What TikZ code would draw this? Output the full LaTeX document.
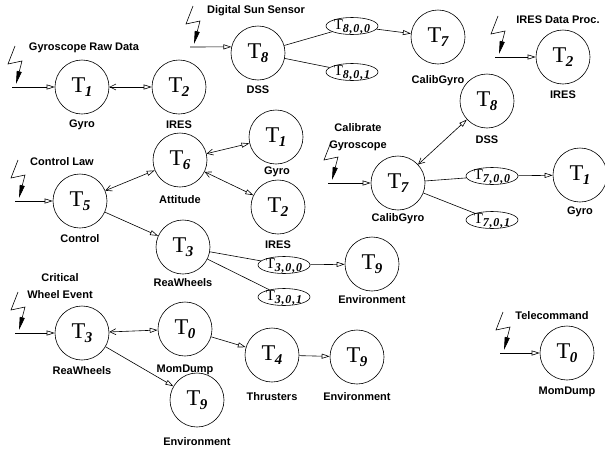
\documentclass[tikz,border=0pt]{standalone}
\usepackage{fontspec}
\setmainfont{Liberation Serif}
\setsansfont{Liberation Sans}
\usetikzlibrary{arrows.meta,shapes.geometric}
\newcommand\tk[1]{{\fontsize{22.5}{22}\selectfont T}\kern-0.3pt\raisebox{-4.5pt}{\fontsize{15}{15}\selectfont\bfseries\itshape #1}}
\newcommand\tke[1]{{\fontsize{15}{15}\selectfont T}\kern-0.2pt\raisebox{-3pt}{\fontsize{12}{12}\selectfont\bfseries\itshape\addfontfeature{LetterSpace=7}#1}}
\tikzset{
  task/.style={circle,draw,line width=0.6pt,minimum size=54pt,inner sep=0pt},
  sub/.style={ellipse,draw,line width=0.6pt,minimum width=52pt,minimum height=17pt,inner xsep=-3pt,inner ysep=0pt,text height=8pt,text depth=2pt},
  lab/.style={font=\sffamily\bfseries\fontsize{11}{16.5}\selectfont,inner sep=0pt,align=center},
  tri/.style={-{Triangle[open,length=8pt,width=5pt]}},
  dbl/.style={{Straight Barb[length=6pt,width=6pt]}-{Triangle[open,length=8pt,width=5pt]}},
  bolt/.style={-{Triangle[length=13pt,width=5pt]}},
}
\newcommand\bolt[1]{\draw[bolt,line width=0.6pt] ([shift={(3,-41)}]#1) -- ([shift={(-4,-23)}]#1) -- ([shift={(10,-26)}]#1) -- ([shift={(4,-3)}]#1);}
\begin{document}
\begin{tikzpicture}[x=1pt,y=-1pt,line width=0.6pt]
\useasboundingbox (0,0) rectangle (605,453);
% ---- Gyroscope Raw Data
\node[lab] (tGyro) at (84,48) {Gyroscope Raw Data};
\node[task] (aT1) at (82,87) {\tk{1}};
\node[task] (aT2) at (179,87) {\tk{2}};
\node[lab] (aL1) at (82,125) {Gyro};
\node[lab] (aL2) at (179,125) {IRES};
\coordinate (aS) at (12,87);
\bolt{aS}
\draw[tri] (aS) -- (aT1);
\draw[dbl] (aT1) -- (aT2);
% ---- Digital Sun Sensor
\node[lab] (tDSS) at (256,11) {Digital Sun Sensor};
\node[task] (bT8) at (258,53) {\tk{8}};
\node[sub] (bE0) at (352,26) {\tke{8,0,0}};
\node[sub] (bE1) at (352,72) {\tke{8,0,1}};
\node[task] (bT7) at (438,37) {\tk{7}};
\node[lab] (bL8) at (258,90) {DSS};
\node[lab] (bL7) at (438,81) {CalibGyro};
\coordinate (bS) at (190,47);
\bolt{bS}
\draw[tri] (bS) -- (bT8.167);
\draw (bT8) -- (bE0);
\draw (bT8) -- (bE1);
\draw[tri] (bE0) -- (bT7);
% ---- IRES Data Proc.
\node[lab] (tIRES) at (558,20) {IRES Data Proc.};
\node[task] (cT2) at (563,57) {\tk{2}};
\node[lab] (cL2) at (563,95) {IRES};
\coordinate (cS) at (495,57);
\bolt{cS}
\draw[tri] (cS) -- (cT2);
% ---- Calibrate Gyroscope
\node[lab] (tCal) at (358,137) {Calibrate\\Gyroscope};
\node[task] (dT7) at (398,183) {\tk{7}};
\node[task] (dT8) at (487,101) {\tk{8}};
\node[sub] (dE0) at (492,176) {\tke{7,0,0}};
\node[sub] (dE1) at (492,220) {\tke{7,0,1}};
\node[task] (dT1) at (580,175) {\tk{1}};
\node[lab] (dL7) at (398,219) {CalibGyro};
\node[lab] (dL8) at (487,140) {DSS};
\node[lab] (dL1) at (580,212) {Gyro};
\coordinate (dS) at (328,183);
\bolt{dS}
\draw[tri] (dS) -- (dT7);
\draw[dbl] (dT7) -- (dT8);
\draw (dT7) -- (dE0);
\draw (dT7) -- (dE1);
\draw[tri] (dE0) -- (dT1);
% ---- Control Law
\node[lab] (tCtl) at (62,162) {Control Law};
\node[task] (eT5) at (80,201) {\tk{5}};
\node[task] (eT6) at (180,160) {\tk{6}};
\node[task] (eT1) at (276,137) {\tk{1}};
\node[task] (eT2) at (278,207) {\tk{2}};
\node[task] (eT3) at (183,247) {\tk{3}};
\node[sub] (eE0) at (284,265) {\tke{3,0,0}};
\node[sub] (eE1) at (284,297) {\tke{3,0,1}};
\node[task] (eT9) at (372,264) {\tk{9}};
\node[lab] (eL5) at (80,239) {Control};
\node[lab] (eL6) at (180,200) {Attitude};
\node[lab] (eL1) at (277,172) {Gyro};
\node[lab] (eL2) at (278,245) {IRES};
\node[lab] (eL3) at (183,283) {ReaWheels};
\node[lab] (eL9) at (372,300) {Environment};
\coordinate (eS) at (15,201);
\bolt{eS}
\draw[tri] (eS) -- (eT5);
\draw[dbl] (eT5) -- (eT6);
\draw[dbl] (eT6) -- (eT1);
\draw[dbl] (eT6) -- (eT2);
\draw[tri] (eT5) -- (eT3);
\draw (eT3) -- (eE0);
\draw (eT3) -- (eE1);
\draw[tri] (eE0) -- (eT9);
% ---- Critical Wheel Event
\node[lab] (tCrit) at (60,286) {Critical\\Wheel Event};
\node[task] (fT3) at (82,333) {\tk{3}};
\node[task] (fT0) at (185,329) {\tk{0}};
\node[task] (fT9) at (197,400) {\tk{9}};
\node[task] (fT4) at (272,355) {\tk{4}};
\node[task] (fT9b) at (357,357) {\tk{9}};
\node[lab] (fL3) at (82,371) {ReaWheels};
\node[lab] (fL0) at (185,370) {MomDump};
\node[lab] (fL9) at (197,442) {Environment};
\node[lab] (fL4) at (272,397) {Thrusters};
\node[lab] (fL9b) at (357,397) {Environment};
\coordinate (fS) at (15,333);
\bolt{fS}
\draw[tri] (fS) -- (fT3);
\draw[dbl] (fT3) -- (fT0);
\draw[tri] (fT3) -- (fT9);
\draw[tri] (fT0) -- (fT4);
\draw[tri] (fT4) -- (fT9b);
% ---- Telecommand
\node[lab] (tTel) at (552,316) {Telecommand};
\node[task] (gT0) at (567,353) {\tk{0}};
\node[lab] (gL0) at (567,392) {MomDump};
\coordinate (gS) at (500,353);
\bolt{gS}
\draw[tri] (gS) -- (gT0);
\end{tikzpicture}
\end{document}
